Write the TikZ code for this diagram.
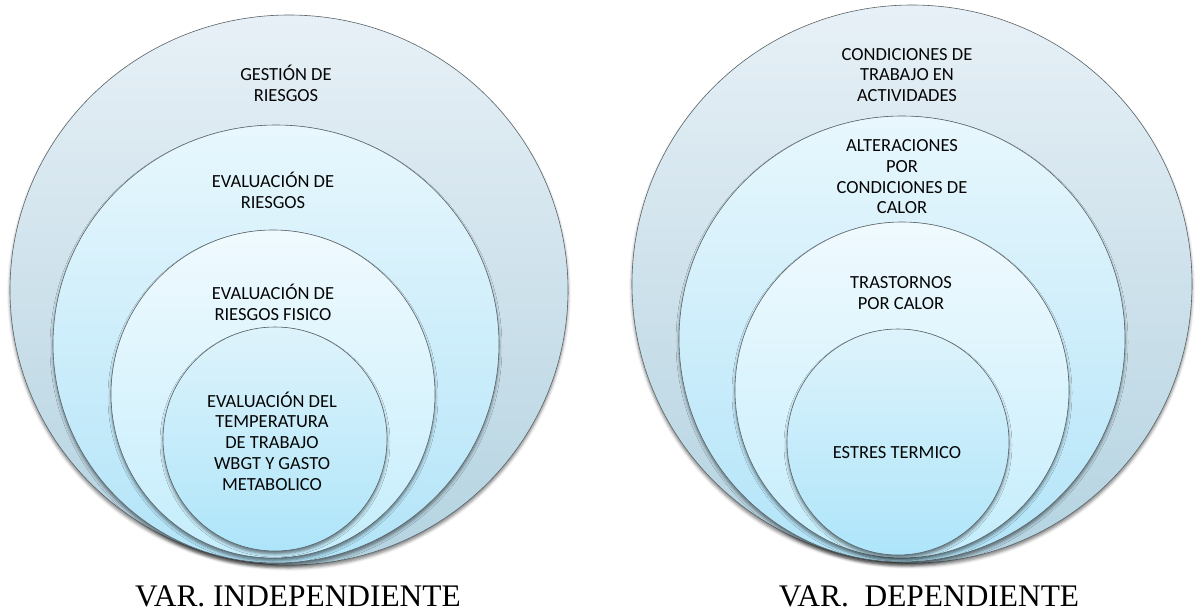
\documentclass[tikz,border=0pt]{standalone}
\usepackage{fontspec}
\setmainfont{Liberation Serif}
\newfontfamily\smartfont{Carlito}
\usetikzlibrary{shadows.blur}

\definecolor{ringedge}{RGB}{90,100,105}
\definecolor{ringtxt}{RGB}{5,5,5}
\tikzset{
    ring/.style={draw=ringedge, line width=0.6pt,
        blur shadow={shadow xshift=0pt, shadow yshift=-3pt, shadow blur radius=3pt, shadow opacity=50}},
    ringtext/.style={align=center, inner sep=0pt, text=ringtxt,
        font=\smartfont\fontsize{18.5}{20.7}\selectfont},
    vartext/.style={inner sep=0pt, font=\fontsize{31.4}{34}\selectfont}
}

\begin{document}
\begin{tikzpicture}[x=1pt, y=-1pt]
        \useasboundingbox (0, 0) rectangle (1195, 616);

        \path[ring, top color={rgb,255:red,231;green,240;blue,246}, bottom color={rgb,255:red,180;green,211;blue,225}] (289, 290) ellipse (279 and 275);
        \path[ring, top color={rgb,255:red,232;green,247;blue,253}, bottom color={rgb,255:red,178;green,228;blue,248}] (276, 344) ellipse (223 and 219);
        \path[ring, top color={rgb,255:red,240;green,250;blue,254}, bottom color={rgb,255:red,196;green,237;blue,252}] (273, 394) ellipse (162 and 164);
        \path[ring, top color={rgb,255:red,222;green,243;blue,251}, bottom color={rgb,255:red,174;green,229;blue,250}] (275, 439) ellipse (112 and 112);

        \path[ring, top color={rgb,255:red,231;green,240;blue,246}, bottom color={rgb,255:red,180;green,211;blue,225}] (912, 284) ellipse (280 and 279);
        \path[ring, top color={rgb,255:red,232;green,247;blue,253}, bottom color={rgb,255:red,178;green,228;blue,248}] (902, 339) ellipse (223 and 223);
        \path[ring, top color={rgb,255:red,240;green,250;blue,254}, bottom color={rgb,255:red,196;green,237;blue,252}] (902, 390) ellipse (167 and 168);
        \path[ring, top color={rgb,255:red,222;green,243;blue,251}, bottom color={rgb,255:red,174;green,229;blue,250}] (898, 442) ellipse (111 and 113);

        \node[ringtext] (gestion) at (286, 83) {GESTIÓN DE\\RIESGOS};
        \node[ringtext] (evalriesgos) at (273, 190) {EVALUACIÓN DE\\RIESGOS};
        \node[ringtext] (evalfisico) at (273, 302) {EVALUACIÓN DE\\RIESGOS FISICO};
        \node[ringtext] (evaltemp) at (272, 441) {EVALUACIÓN DEL\\TEMPERATURA\\DE TRABAJO\\WBGT Y GASTO\\METABOLICO};

        \node[ringtext] (condiciones) at (907, 75) {CONDICIONES DE\\TRABAJO EN\\ACTIVIDADES};
        \node[ringtext] (alteraciones) at (902, 177) {ALTERACIONES\\POR\\CONDICIONES DE\\CALOR};
        \node[ringtext] (trastornos) at (901, 293) {TRASTORNOS\\POR CALOR};
        \node[ringtext] (estres) at (897, 453) {ESTRES TERMICO};

        \node[vartext] (varind) at (298, 596) {VAR. INDEPENDIENTE};
        \node[vartext] (vardep) at (929, 596) {VAR.\ \ DEPENDIENTE};
\end{tikzpicture}
\end{document}
